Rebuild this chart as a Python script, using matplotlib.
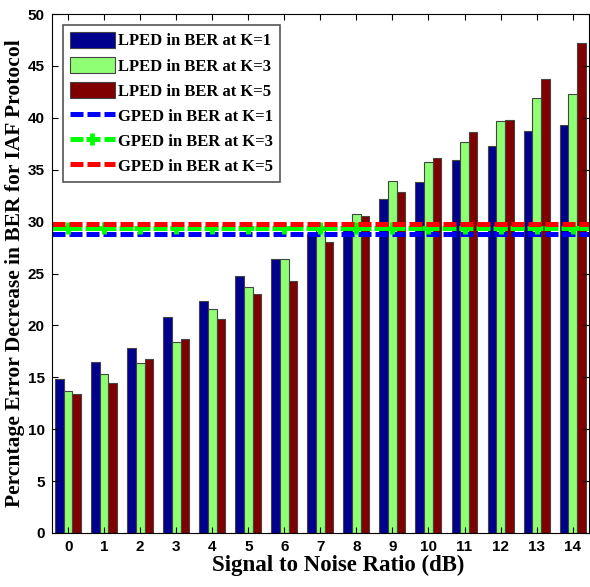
import numpy as np
import matplotlib.pyplot as plt

# data
snr = list(range(15))
k1 = [14.8, 16.5, 17.8, 20.8, 22.4, 24.8, 26.4, 28.8, 29.5, 32.2, 33.8, 35.9, 37.3, 38.7, 39.3]
k3 = [13.65, 15.35, 16.35, 18.4, 21.6, 23.7, 26.4, 29.3, 30.7, 33.9, 35.7, 37.7, 39.7, 41.9, 42.3]
k5 = [13.4, 14.5, 16.8, 18.7, 20.6, 23.0, 24.3, 28.0, 30.5, 32.9, 36.1, 38.6, 39.8, 43.7, 47.2]
gped = [28.8, 29.4, 29.8]  # K=1, K=3, K=5

serif = ['Liberation Serif', 'DejaVu Serif']
sans = ['Liberation Sans', 'DejaVu Sans']

fig = plt.figure(figsize=(5.9, 5.87), dpi=100)
ax = fig.add_axes([0.088, 0.092, 0.91, 0.884])

x = np.array(snr)
w = 0.24
b1 = ax.bar(x - w, k1, w, color='#00008f', edgecolor='#444444', lw=0.8, label='LPED in BER at K=1')
b3 = ax.bar(x, k3, w, color='#8fff73', edgecolor='#444444', lw=0.8, label='LPED in BER at K=3')
b5 = ax.bar(x + w, k5, w, color='#800000', edgecolor='#444444', lw=0.8, label='LPED in BER at K=5')

xl = np.array([-0.45, 14.45])
dsh = (2.6, 0.8)
l1, = ax.plot(xl, [gped[0]] * 2, '--', color='#0000ff', lw=3.6, dashes=dsh, label='GPED in BER at K=1')
ax.plot(xl, [gped[1]] * 2, '--', color='#00ff00', lw=3.6, dashes=dsh)
l3, = ax.plot(x, [gped[1]] * len(x), '--', color='#00ff00', lw=3.6, dashes=dsh,
              marker='+', ms=9, mew=3.5, label='GPED in BER at K=3')
l5, = ax.plot(xl, [gped[2]] * 2, '--', color='#ff0000', lw=3.6, dashes=dsh, label='GPED in BER at K=5')

ax.set_xlim(xl)
ax.set_ylim(0, 50)
ax.set_xticks(snr)
ax.set_yticks(range(0, 51, 5))
ax.tick_params(direction='in', top=True, right=True, length=4, pad=5)
for lab in ax.get_xticklabels() + ax.get_yticklabels():
    lab.set_family(sans)
    lab.set_fontweight('bold')
    lab.set_fontsize(11)

ax.set_xlabel('Signal to Noise Ratio (dB)', family=serif, fontweight='bold', fontsize=16.5)
ax.xaxis.set_label_coords(0.533, -0.043)
ax.set_ylabel('Percntage Error Decrease in BER for IAF Protocol', family=serif,
              fontweight='bold', fontsize=15.5)
ax.yaxis.set_label_coords(-0.05, 0.5)

leg = ax.legend([b1, b3, b5, l1, l3, l5], [h.get_label() for h in [b1, b3, b5, l1, l3, l5]],
                loc='upper left', bbox_to_anchor=(0.005, 0.995), fancybox=False,
                framealpha=1, edgecolor='#555555', handlelength=2.7, handleheight=1.1,
                handletextpad=0.2, borderpad=0.4, labelspacing=0.45,
                prop={'family': serif, 'weight': 'bold', 'size': 12})
leg.get_frame().set_linewidth(1.2)

fig.savefig('out.png', dpi=100)
